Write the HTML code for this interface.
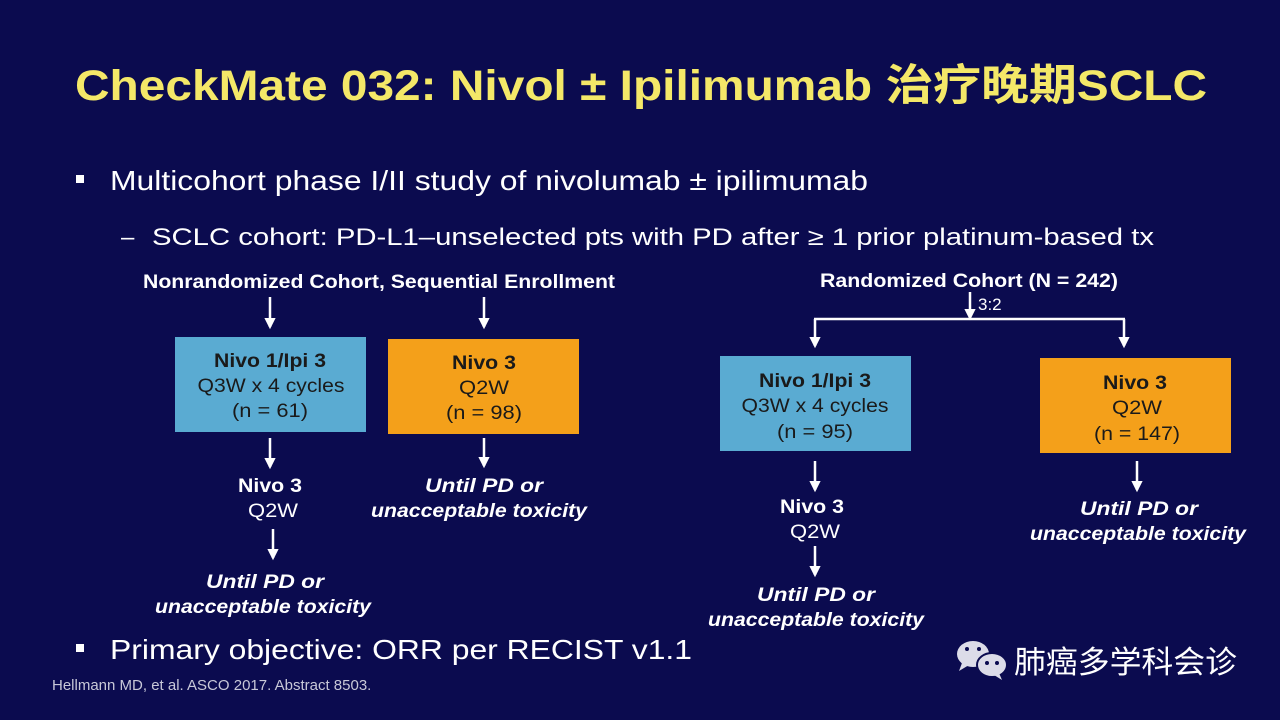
<!DOCTYPE html>
<html><head><meta charset="utf-8"><style>
html,body{margin:0;padding:0;background:#0b0b4f;}
svg{display:block}
</style></head><body>
<svg width="1280" height="720" viewBox="0 0 1280 720" xmlns="http://www.w3.org/2000/svg" font-family="Liberation Sans, Noto Sans CJK SC, sans-serif">
<defs>
<marker id="ah" viewBox="0 0 10 10" refX="8" refY="5" markerWidth="4.5" markerHeight="4.5" orient="auto"><path d="M0,0 L10,5 L0,10 z" fill="#fff"/></marker>
</defs>
<rect width="1280" height="720" fill="#0b0b4f"/>
<text x="75" y="100" font-size="43" font-weight="bold" fill="#f4e868" textLength="1132" lengthAdjust="spacingAndGlyphs">CheckMate 032: Nivol ± Ipilimumab 治疗晚期SCLC</text>
<g fill="#fff">
<rect x="76" y="175" width="8" height="8"/>
<text x="110" y="190" font-size="28" textLength="758" lengthAdjust="spacingAndGlyphs">Multicohort phase I/II study of nivolumab ± ipilimumab</text>
<text x="121" y="245" font-size="24">–</text>
<text x="152" y="245" font-size="24" textLength="1002" lengthAdjust="spacingAndGlyphs">SCLC cohort: PD-L1–unselected pts with PD after ≥ 1 prior platinum-based tx</text>
<rect x="76" y="644" width="8" height="8"/>
<text x="110" y="659" font-size="28" textLength="582" lengthAdjust="spacingAndGlyphs">Primary objective: ORR per RECIST v1.1</text>
</g>
<text x="52" y="690" font-size="15" fill="#c8c8d8">Hellmann MD, et al. ASCO 2017. Abstract 8503.</text>

<g stroke="#fff" stroke-width="2.5" fill="none" marker-end="url(#ah)">
<line x1="270" y1="297" x2="270" y2="327"/>
<line x1="484" y1="297" x2="484" y2="327"/>
<line x1="270" y1="438" x2="270" y2="467"/>
<line x1="484" y1="438" x2="484" y2="466"/>
<line x1="273" y1="529" x2="273" y2="558"/>
<line x1="970" y1="292" x2="970" y2="318"/>
<line x1="815" y1="319" x2="815" y2="346"/>
<line x1="1124" y1="319" x2="1124" y2="346"/>
<line x1="815" y1="461" x2="815" y2="490"/>
<line x1="1137" y1="461" x2="1137" y2="490"/>
<line x1="815" y1="546" x2="815" y2="575"/>
</g>
<line x1="814" y1="319" x2="1125" y2="319" stroke="#fff" stroke-width="2.5"/>

<rect x="175" y="337" width="191" height="95" fill="#5aabd2"/>
<rect x="388" y="339" width="191" height="95" fill="#f4a01a"/>
<rect x="720" y="356" width="191" height="95" fill="#5aabd2"/>
<rect x="1040" y="358" width="191" height="95" fill="#f4a01a"/>

<g text-anchor="middle" font-size="19" fill="#1a1a1a">
<text x="270" y="367" font-weight="bold" textLength="112" lengthAdjust="spacingAndGlyphs">Nivo 1/Ipi 3</text>
<text x="271" y="392" textLength="147" lengthAdjust="spacingAndGlyphs">Q3W x 4 cycles</text>
<text x="270" y="417" textLength="76" lengthAdjust="spacingAndGlyphs">(n = 61)</text>
<text x="484" y="369" font-weight="bold" textLength="64" lengthAdjust="spacingAndGlyphs">Nivo 3</text>
<text x="484" y="394" textLength="50" lengthAdjust="spacingAndGlyphs">Q2W</text>
<text x="484" y="419" textLength="76" lengthAdjust="spacingAndGlyphs">(n = 98)</text>
<text x="815" y="387" font-weight="bold" textLength="112" lengthAdjust="spacingAndGlyphs">Nivo 1/Ipi 3</text>
<text x="815" y="412" textLength="147" lengthAdjust="spacingAndGlyphs">Q3W x 4 cycles</text>
<text x="815" y="438" textLength="76" lengthAdjust="spacingAndGlyphs">(n = 95)</text>
<text x="1135" y="389" font-weight="bold" textLength="64" lengthAdjust="spacingAndGlyphs">Nivo 3</text>
<text x="1137" y="414" textLength="50" lengthAdjust="spacingAndGlyphs">Q2W</text>
<text x="1137" y="440" textLength="86" lengthAdjust="spacingAndGlyphs">(n = 147)</text>
</g>

<g text-anchor="middle" font-size="19" fill="#fff">
<text x="379" y="288" font-weight="bold" textLength="472" lengthAdjust="spacingAndGlyphs">Nonrandomized Cohort, Sequential Enrollment</text>
<text x="969" y="287" font-weight="bold" textLength="298" lengthAdjust="spacingAndGlyphs">Randomized Cohort (N = 242)</text>
<text x="270" y="492" font-weight="bold" textLength="64" lengthAdjust="spacingAndGlyphs">Nivo 3</text>
<text x="273" y="517" textLength="50" lengthAdjust="spacingAndGlyphs">Q2W</text>
<text x="484" y="492" font-weight="bold" font-style="italic" textLength="118" lengthAdjust="spacingAndGlyphs">Until PD or</text>
<text x="479" y="517" font-weight="bold" font-style="italic" textLength="216" lengthAdjust="spacingAndGlyphs">unacceptable toxicity</text>
<text x="265" y="588" font-weight="bold" font-style="italic" textLength="118" lengthAdjust="spacingAndGlyphs">Until PD or</text>
<text x="263" y="613" font-weight="bold" font-style="italic" textLength="216" lengthAdjust="spacingAndGlyphs">unacceptable toxicity</text>
<text x="812" y="513" font-weight="bold" textLength="64" lengthAdjust="spacingAndGlyphs">Nivo 3</text>
<text x="815" y="538" textLength="50" lengthAdjust="spacingAndGlyphs">Q2W</text>
<text x="816" y="601" font-weight="bold" font-style="italic" textLength="118" lengthAdjust="spacingAndGlyphs">Until PD or</text>
<text x="816" y="626" font-weight="bold" font-style="italic" textLength="216" lengthAdjust="spacingAndGlyphs">unacceptable toxicity</text>
<text x="1139" y="515" font-weight="bold" font-style="italic" textLength="118" lengthAdjust="spacingAndGlyphs">Until PD or</text>
<text x="1138" y="540" font-weight="bold" font-style="italic" textLength="216" lengthAdjust="spacingAndGlyphs">unacceptable toxicity</text>
</g>
<text x="978" y="310" font-size="17" fill="#fff">3:2</text>

<g>
<ellipse cx="973" cy="654" rx="16" ry="13" fill="#dcdce8"/>
<path d="M962,663 L959,671 L969,665 z" fill="#dcdce8"/>
<ellipse cx="992" cy="665" rx="15" ry="12" fill="#dcdce8" stroke="#0b0b4f" stroke-width="2"/>
<path d="M999,673 L1002,680 L994,675 z" fill="#dcdce8"/>
<circle cx="967" cy="649" r="2" fill="#0b0b4f"/><circle cx="979" cy="649" r="2" fill="#0b0b4f"/>
<circle cx="987" cy="663" r="2" fill="#0b0b4f"/><circle cx="997" cy="663" r="2" fill="#0b0b4f"/>
</g>
<text x="1014" y="673" font-size="31" fill="#fff" font-family="Noto Sans CJK SC, sans-serif" textLength="223" lengthAdjust="spacingAndGlyphs">肺癌多学科会诊</text>
</svg>
</body></html>
